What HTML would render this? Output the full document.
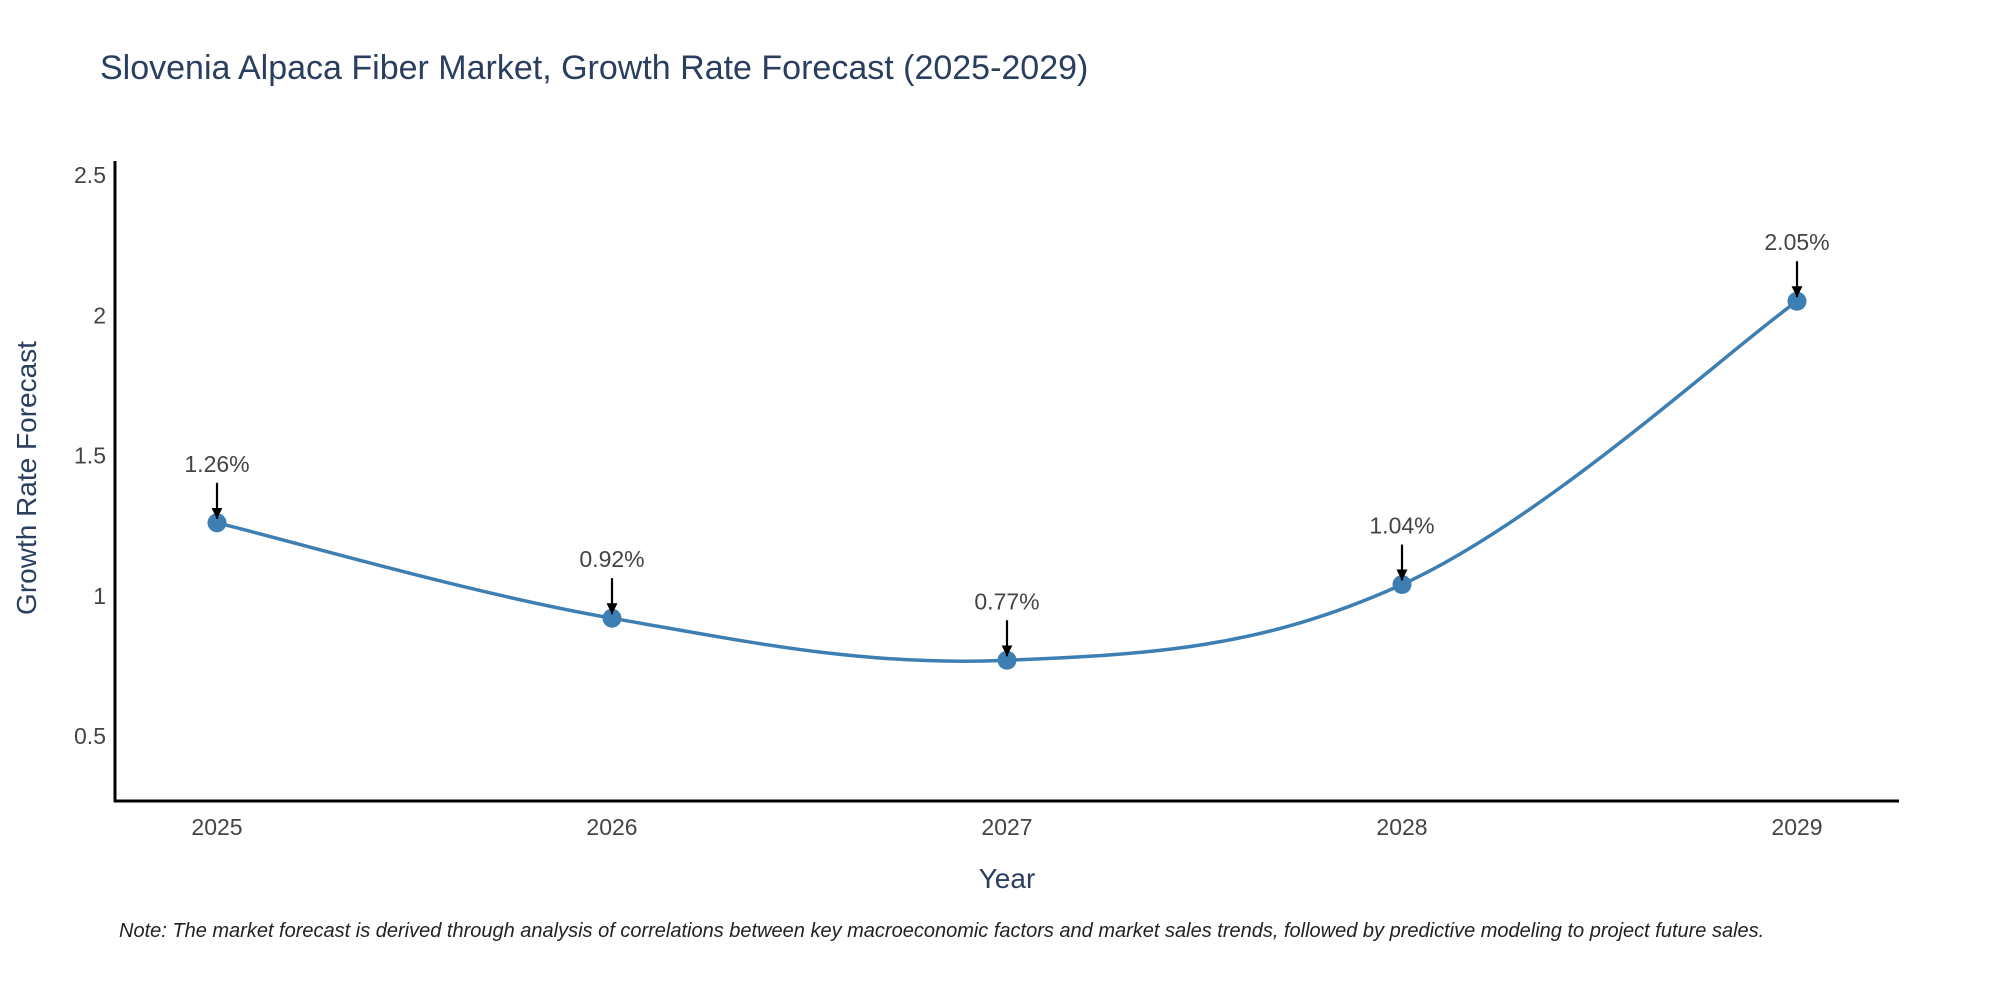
<!DOCTYPE html>
<html><head><meta charset="utf-8"><style>
body{margin:0;background:#fff;}
svg text{font-family:"Liberation Sans","DejaVu Sans",sans-serif;}
</style></head><body>
<svg id="chart" width="2000" height="1000" xmlns="http://www.w3.org/2000/svg">
<defs><marker id="ah" viewBox="0 0 10 10" refX="10" refY="5" markerWidth="5" markerHeight="5" orient="auto"><path d="M0,0 L10,5 L0,10 z" fill="#000"/></marker></defs>
<text x="100" y="79" font-size="34" fill="#2a3f5f">Slovenia Alpaca Fiber Market, Growth Rate Forecast (2025-2029)</text>
<g id="yticks"></g>
<g id="xticks"></g>
<g id="series"></g>
<g id="annots"></g>
<line x1="115" y1="161" x2="115" y2="802" stroke="#000" stroke-width="3"/>
<line x1="114" y1="801" x2="1899" y2="801" stroke="#000" stroke-width="3"/>
<text x="1007" y="888" font-size="28" fill="#2a3f5f" text-anchor="middle">Year</text>
<text transform="translate(36,478) rotate(-90)" font-size="28" fill="#2a3f5f" text-anchor="middle">Growth Rate Forecast</text>
<text x="119" y="937" font-size="20" font-style="italic" fill="#222">Note: The market forecast is derived through analysis of correlations between key macroeconomic factors and market sales trends, followed by predictive modeling to project future sales.</text>
</svg>
<script>
const years=[2025,2026,2027,2028,2029];
const values=[1.26,0.92,0.77,1.04,2.05];
const labels=["1.26%","0.92%","0.77%","1.04%","2.05%"];
const yTickVals=[0.5,1,1.5,2,2.5];
const yTickLabels=["0.5","1","1.5","2","2.5"];
const NS="http://www.w3.org/2000/svg";
function xs(y){return 217+(y-2025)*395;}
function ys(v){return 175+(2.5-v)*280.5;}
function mk(t,a,p){const e=document.createElementNS(NS,t);for(const k in a)e.setAttribute(k,a[k]);p.appendChild(e);return e;}
const yt=document.getElementById('yticks');
yTickVals.forEach((v,i)=>{const t=mk('text',{x:106,y:ys(v)+8,'font-size':23,fill:'#444','text-anchor':'end'},yt);


t.textContent=yTickLabels[i];});
const xt=document.getElementById('xticks');
years.forEach(y=>{const t=mk('text',{x:xs(y),y:835,'font-size':23,fill:'#444','text-anchor':'middle'},xt);


t.textContent=String(y);});
const pts=years.map((y,i)=>[xs(y),ys(values[i])]);
let d='M'+pts[0][0]+','+pts[0][1];const s=0.18;
for(let i=0;i<pts.length-1;i++){const p0=pts[Math.max(0,i-1)],p1=pts[i],p2=pts[i+1],p3=pts[Math.min(pts.length-1,i+2)];
const c1=[p1[0]+(p2[0]-p0[0])*s,p1[1]+(p2[1]-p0[1])*s],c2=[p2[0]-(p3[0]-p1[0])*s,p2[1]-(p3[1]-p1[1])*s];
d+=' C'+c1+' '+c2+' '+p2;}
const sg=document.getElementById('series');
const ln=mk('path',{d:d,fill:'none',stroke:'#3d7fb2','stroke-width':3.5},sg);


pts.forEach(p=>{const c=mk('circle',{cx:p[0],cy:p[1],r:9.5,fill:'#3d7fb2'},sg);

});
const an=document.getElementById('annots');
pts.forEach((p,i)=>{const l=mk('line',{x1:p[0],y1:p[1]-40,x2:p[0],y2:p[1]-4,stroke:'#000','stroke-width':2.2,'marker-end':'url(#ah)'},an);


const t=mk('text',{x:p[0],y:p[1]-51,'font-size':23,fill:'#444','text-anchor':'middle'},an);


t.textContent=labels[i];});
</script>
</body></html>
